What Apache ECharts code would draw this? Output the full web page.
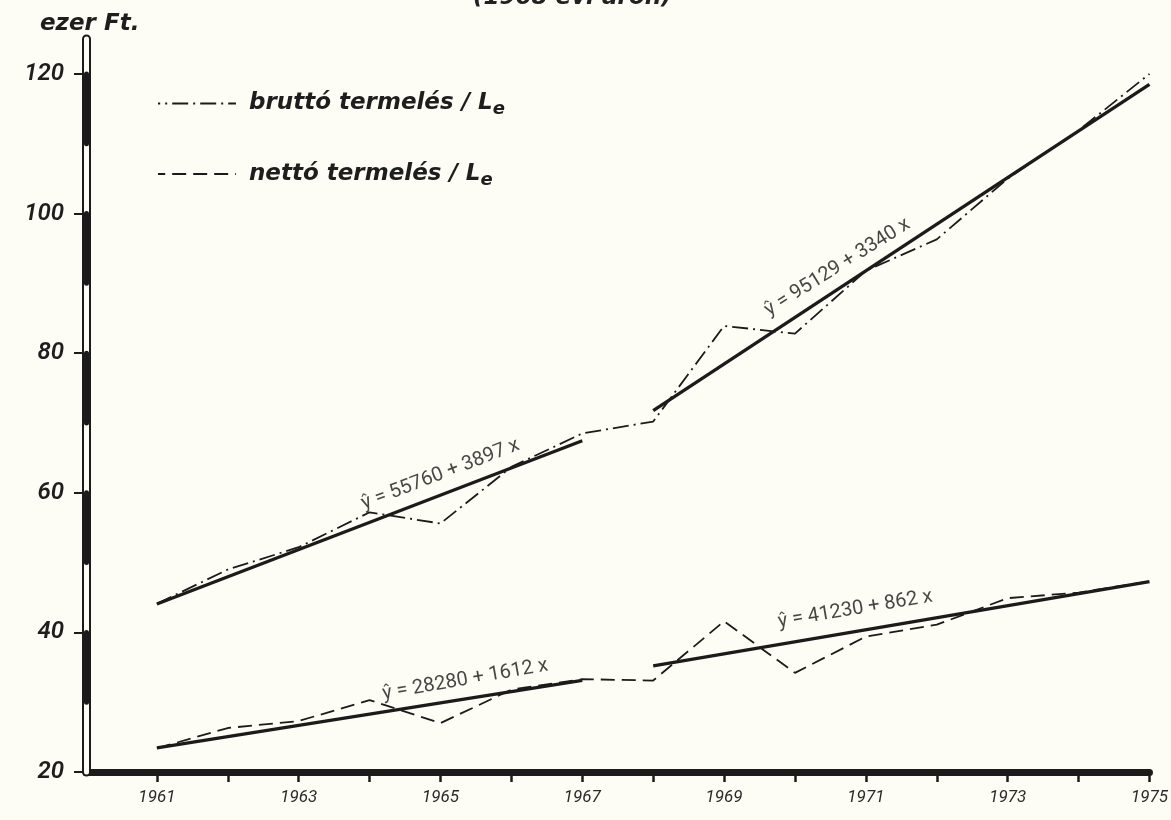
<!DOCTYPE html>
<html>
<head>
<meta charset="utf-8">
<script src="https://cdn.jsdelivr.net/npm/echarts@6/dist/echarts.min.js"></script>
<style>
html,body{margin:0;padding:0;background:#fdfdf6;}
#chart{width:1171px;height:820px;}
</style>
</head>
<body>
<div id="chart"></div>
<script>
// ---- data ----
const years = [1961,1962,1963,1964,1965,1966,1967,1968,1969,1970,1971,1972,1973,1974,1975];
const brutto = [44.1,49.0,52.2,57.2,55.6,63.7,68.5,70.2,83.9,82.8,91.8,96.3,105.0,111.9,120.0];
const netto  = [23.4,26.3,27.3,30.3,27.0,31.8,33.3,33.1,41.6,34.2,39.4,41.1,44.9,45.7,47.3];
// regression lines (end points)
const trendB1 = [[1961,44.07],[1967,67.45]];
const trendB2 = [[1968,71.75],[1975,118.51]];
const trendN1 = [[1961,23.44],[1967,33.12]];
const trendN2 = [[1968,35.20],[1975,47.26]];
const eqTexts = ['ŷ = 55760 + 3897 x','ŷ = 95129 + 3340 x','ŷ = 28280 + 1612 x','ŷ = 41230 + 862 x'];
const eqAnchors = [[1965.0,62.6],[1970.6,92.3],[1965.35,33.2],[1970.85,43.3]];
const yTicks = [20,40,60,80,100,120];
const xLabelYears = [1961,1963,1965,1967,1969,1971,1973,1975];
const seriesNames = ['bruttó termelés / Le','nettó termelés / Le'];
// ---- styles ----
const eqRotate = [21,32,10,9.5];
const ink = '#1b1b1b';

const chart = echarts.init(document.getElementById('chart'));
const yBase = {type:'value', min:20, max:125, position:'left', splitLine:{show:false}};
const pxPer10 = (772-39)/105*10;

const option = {
  backgroundColor:'#fdfdf6',
  animation:false,
  title:[
    {text:'(1968 évi áron)', left:468, top:-18,
     textStyle:{fontFamily:'DejaVu Sans', fontStyle:'italic', fontWeight:'bold', fontSize:23, color:'#222'}},
    {text:'ezer Ft.', left:35, top:8,
     textStyle:{fontFamily:'DejaVu Sans', fontStyle:'italic', fontWeight:'bold', fontSize:23, color:'#1e1e1e'}}
  ],
  grid:{left:86, right:21, top:39, bottom:48, containLabel:false},
  legend:{
    orient:'vertical', left:152, top:87, itemGap:44, itemWidth:78, itemHeight:14,
    data:seriesNames, selectedMode:false,
    itemStyle:{opacity:0},
    formatter:function(name){ return '{t|' + name.slice(0,-1) + '}{s|' + name.slice(-1) + '}'; },
    textStyle:{padding:[0,0,0,8], rich:{
      t:{fontFamily:'DejaVu Sans', fontStyle:'italic', fontWeight:'bold', fontSize:23, lineHeight:30, color:'#1e1e1e'},
      s:{fontFamily:'DejaVu Sans', fontStyle:'italic', fontWeight:'bold', fontSize:18, lineHeight:14, verticalAlign:'bottom', color:'#1e1e1e'}
    }}
  },
  xAxis:{
    type:'value', min:1960, max:1975,
    splitLine:{show:false},
    axisLine:{show:true, onZero:false, lineStyle:{color:ink, width:7}},
    axisTick:{show:true, customValues:years, length:10, lineStyle:{color:ink, width:2.5}},
    axisLabel:{customValues:xLabelYears, margin:17, formatter:v=>String(v),
      fontFamily:'Roboto', fontStyle:'italic', fontSize:17, color:'#2a2a2a'}
  },
  yAxis:[
    Object.assign({}, yBase, {
      z:1,
      axisLine:{show:true, lineStyle:{color:ink, width:9}},
      axisTick:{show:true, customValues:yTicks, length:12, lineStyle:{color:ink, width:2}},
      axisLabel:{customValues:yTicks, margin:22, fontFamily:'Roboto', fontStyle:'italic', fontWeight:600, fontSize:24, color:'#1e1e1e'}
    }),
    Object.assign({}, yBase, {
      z:2, axisTick:{show:false}, axisLabel:{show:false},
      axisLine:{show:true, lineStyle:{color:'#fdfdf6', width:5}}
    }),
    Object.assign({}, yBase, {
      z:3, axisTick:{show:false}, axisLabel:{show:false},
      axisLine:{show:true, lineStyle:{color:ink, width:5, type:[pxPer10, pxPer10], dashOffset:pxPer10}}
    })
  ],
  series:[
    {name:seriesNames[0], type:'line', symbol:'none', z:3, color:ink,
     data:years.map((y,i)=>[y,brutto[i]]),
     lineStyle:{color:ink, width:1.8, type:[16,5,2,5]}},
    {name:seriesNames[1], type:'line', symbol:'none', z:3, color:ink,
     data:years.map((y,i)=>[y,netto[i]]),
     lineStyle:{color:ink, width:1.8, type:[14,7]}},
    ...[trendB1,trendB2,trendN1,trendN2].map(t=>({
      type:'line', symbol:'none', z:4, data:t, color:ink,
      lineStyle:{color:ink, width:3.3, type:'solid'}
    })),
    {type:'scatter', symbolSize:0, z:5, silent:true,
     data:eqAnchors.map((p,i)=>({value:p, label:{rotate:eqRotate[i]}})),
     label:{show:true, position:'inside', formatter:p=>eqTexts[p.dataIndex],
       fontFamily:'Roboto', fontWeight:400, fontSize:20, color:'#161616'}}
  ]
};
chart.setOption(option);
</script>
</body>
</html>
